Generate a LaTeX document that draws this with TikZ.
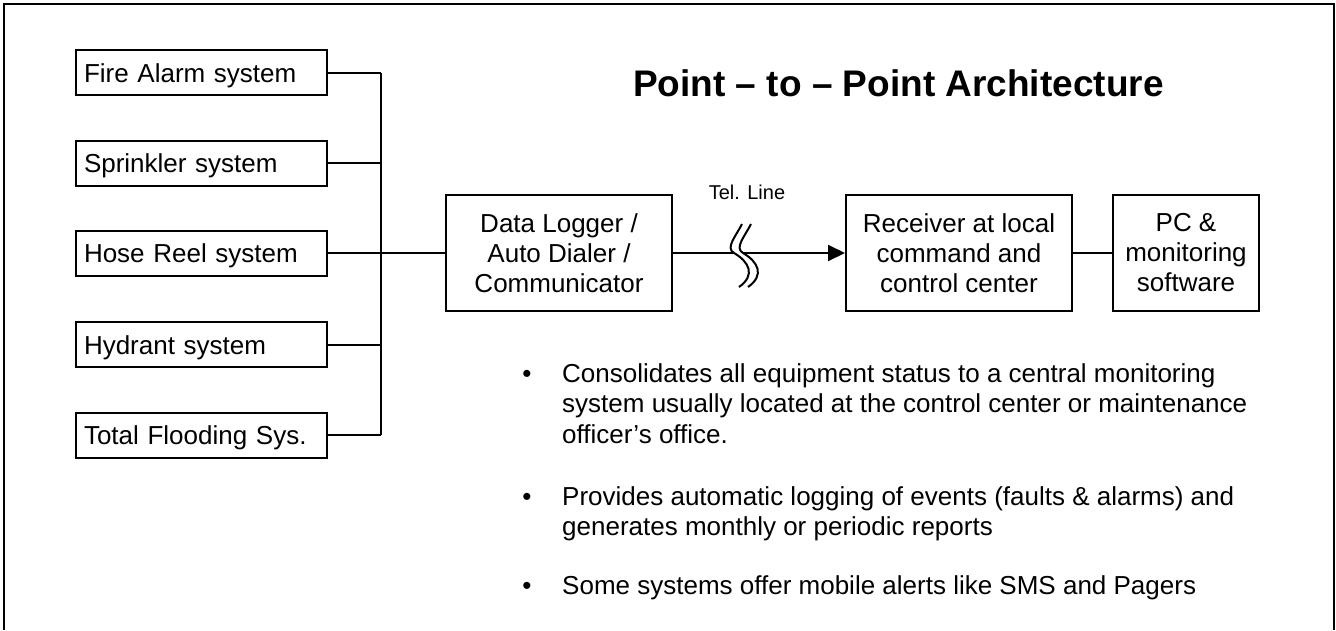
\documentclass[tikz,border=0pt]{standalone}
\usepackage{fontspec}
\setmainfont{Liberation Sans}
\usetikzlibrary{arrows.meta}
\begin{document}
\begin{tikzpicture}[x=1pt,y=-1pt,
  conn/.style={line width=2pt},
  lbox/.style={draw, line width=2pt, minimum width=251pt, minimum height=45pt, text width=235pt, align=left, inner xsep=8pt, inner ysep=0pt, text height=19pt, text depth=0pt, font=\fontsize{26}{30}\selectfont},
  mbox/.style={draw, line width=2pt, minimum height=116pt, inner sep=0pt, align=center, font=\fontsize{26}{30}\selectfont},
  bultext/.style={anchor=base west, align=left, inner sep=0pt, font=\fontsize{26}{30.5}\selectfont},
  buldot/.style={anchor=base, inner sep=0pt, font=\fontsize{26}{30}\selectfont},
]
\useasboundingbox (0,0) rectangle (1336,630);
\draw[line width=2pt] (4,630) -- (4,4) -- (1334,4) -- (1334,630);

\node[anchor=base west, inner sep=0pt, font=\fontsize{37}{40}\selectfont\bfseries] (title) at (633,96) {Point – to – Point Architecture};

\node[lbox] (fire)    at (201.5,72.5) {Fire Alarm system};
\node[lbox] (sprink)  at (201.5,163)  {Sprinkler system};
\node[lbox] (hose)    at (201.5,253)  {Hose Reel system};
\node[lbox] (hydrant) at (201.5,344.5){Hydrant system};
\node[lbox] (total)   at (201.5,435)  {Total Flooding Sys.};

\node[mbox, minimum width=226pt] (logger) at (559,253) {Data Logger /\\Auto Dialer /\\Communicator};
\node[mbox, minimum width=226pt] (recv)   at (959,253) {Receiver at local\\command and\\control center};
\node[mbox, minimum width=146pt] (pc)     at (1186,253) {PC \&\\monitoring\\software};

\node[anchor=base, inner sep=0pt, font=\fontsize{20}{24}\selectfont] (tel) at (747,199) {Tel. Line};

\coordinate (bt) at (381,0);
\draw[conn] (fire.east -| bt) -- (total.east -| bt);
\foreach \n in {fire,sprink,hydrant,total} \draw[conn] (\n.east) -- (\n.east -| bt);
\draw[conn] (hose.east) -- (logger.west);

\coordinate (brkL) at (734,253);
\coordinate (brkR) at (743,253);
\foreach \dx in {0,9}
  \draw[conn, shift={(\dx,0)}] (742,224) .. controls (736,236) and (725,248) .. (734,253) .. controls (749,261.75) and (756,275) .. (739,287);
\draw[conn] (logger.east) -- (brkL);
\draw[conn,-{Triangle[length=17pt,width=16pt]}] (brkR) -- (recv.west);
\draw[conn] (recv.east) -- (pc.west);

\node[buldot] (d1) at (527,382) {•};
\node[bultext] (t1) at (562,443) {Consolidates all equipment status to a central monitoring\\system usually located at the control center or maintenance\\officer’s office.};
\node[buldot] (d2) at (527,505) {•};
\node[bultext] (t2) at (562,535.5) {Provides automatic logging of events (faults \& alarms) and\\generates monthly or periodic reports};
\node[buldot] (d3) at (527,594) {•};
\node[bultext] (t3) at (562,594) {Some systems offer mobile alerts like SMS and Pagers};
\end{tikzpicture}
\end{document}
